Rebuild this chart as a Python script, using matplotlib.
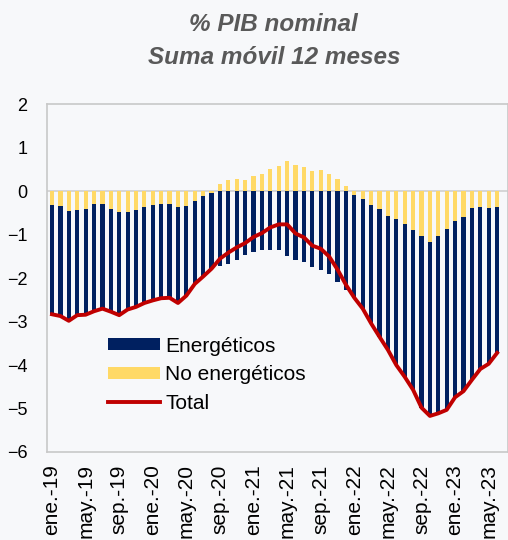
import matplotlib
matplotlib.use("Agg")
import matplotlib.pyplot as plt
from matplotlib.patches import Patch
from matplotlib.lines import Line2D
import numpy as np

plt.rcParams['font.family'] = ['Liberation Sans', 'DejaVu Sans']

months = ["ene", "feb", "mar", "abr", "may", "jun", "jul", "ago", "sep", "oct", "nov", "dic"]
years = ["19", "20", "21", "22", "23"]
labels = [f"{m}.-{y}" for y in years for m in months][:54]

energeticos = [-2.51, -2.53, -2.53, -2.43, -2.44, -2.46, -2.40, -2.36, -2.37, -2.25,
               -2.22, -2.21, -2.20, -2.16, -2.15, -2.22, -2.06, -1.91, -1.85, -1.75,
               -1.72, -1.68, -1.57, -1.46, -1.40, -1.36, -1.35, -1.35, -1.48, -1.59,
               -1.63, -1.73, -1.82, -1.91, -2.09, -2.28, -2.37, -2.52, -2.73, -2.94,
               -3.09, -3.36, -3.53, -3.67, -3.95, -4.00, -4.09, -4.16, -4.05, -4.00,
               -3.95, -3.72, -3.59, -3.36]
no_energeticos = [-0.32, -0.34, -0.45, -0.42, -0.40, -0.30, -0.30, -0.41, -0.48, -0.47,
                  -0.44, -0.36, -0.31, -0.30, -0.30, -0.35, -0.34, -0.22, -0.11, -0.03,
                  0.17, 0.27, 0.28, 0.26, 0.35, 0.39, 0.51, 0.59, 0.71, 0.60,
                  0.57, 0.48, 0.50, 0.41, 0.28, 0.13, -0.08, -0.18, -0.31, -0.41,
                  -0.56, -0.64, -0.74, -0.90, -1.03, -1.17, -1.02, -0.87, -0.69, -0.60,
                  -0.39, -0.37, -0.38, -0.36]
total = [-2.83, -2.87, -2.98, -2.85, -2.84, -2.76, -2.70, -2.77, -2.85, -2.72,
         -2.66, -2.57, -2.51, -2.46, -2.45, -2.57, -2.40, -2.13, -1.96, -1.78,
         -1.55, -1.41, -1.29, -1.19, -1.05, -0.96, -0.83, -0.76, -0.76, -0.97,
         -1.06, -1.25, -1.32, -1.50, -1.80, -2.15, -2.45, -2.70, -3.04, -3.35,
         -3.65, -4.00, -4.27, -4.57, -4.98, -5.17, -5.11, -5.03, -4.74, -4.60,
         -4.34, -4.09, -3.97, -3.72]

NAVY = "#002060"
YELLOW = "#FFD966"
RED = "#C00000"
BG = "#F7F8FA"

x = np.arange(len(labels))
ne = np.array(no_energeticos)
en = np.array(energeticos)

fig = plt.figure(figsize=(5.08, 5.40), dpi=100, facecolor=BG)
ax = fig.add_axes([0.0925, 0.163, 0.9075, 0.6435], facecolor=BG)

w = 0.5
# No energéticos stacked nearest zero
ax.bar(x, ne, width=w, color=YELLOW, zorder=2)
en_bottom = np.where(ne < 0, ne, 0.0)
ax.bar(x, en, width=w, bottom=en_bottom, color=NAVY, zorder=2)
ax.axhline(0, color="#D0D0D0", lw=1.2, zorder=1)
ax.plot(x, total, color=RED, lw=2.8, zorder=3, solid_joinstyle="round")

ax.set_ylim(-6, 2)
ax.set_yticks(np.arange(-6, 3, 1))
ax.set_xlim(-0.6, 54.3)
ax.set_xticks(x[::4])
ax.set_xticklabels(labels[::4], rotation=90)
ax.tick_params(axis="both", length=0, colors="black")
ax.tick_params(axis="y", pad=14, labelsize=13)
ax.tick_params(axis="x", pad=9, labelsize=15)
for s in ax.spines.values():
    s.set_color("#C8C8C8")
    s.set_linewidth(1.2)

handles = [Patch(facecolor=NAVY, edgecolor="none"),
           Patch(facecolor=YELLOW, edgecolor="none"),
           Line2D([], [], color=RED, lw=2.8)]
ax.legend(handles, ["Energéticos", "No energéticos", "Total"], loc="upper left",
          bbox_to_anchor=(0.132, 0.332), frameon=False, fontsize=15,
          handlelength=2.5, handleheight=0.53, handletextpad=0.25, labelspacing=0.47,
          borderaxespad=0, borderpad=0)

fig.text(0.539, 0.955, "% PIB nominal", ha="center", va="center", fontsize=17.5,
         fontweight="bold", fontstyle="italic", color="#595959")
fig.text(0.539, 0.893, "Suma móvil 12 meses", ha="center", va="center", fontsize=17.5,
         fontweight="bold", fontstyle="italic", color="#595959")

fig.savefig("out.png", dpi=100, facecolor=BG)
